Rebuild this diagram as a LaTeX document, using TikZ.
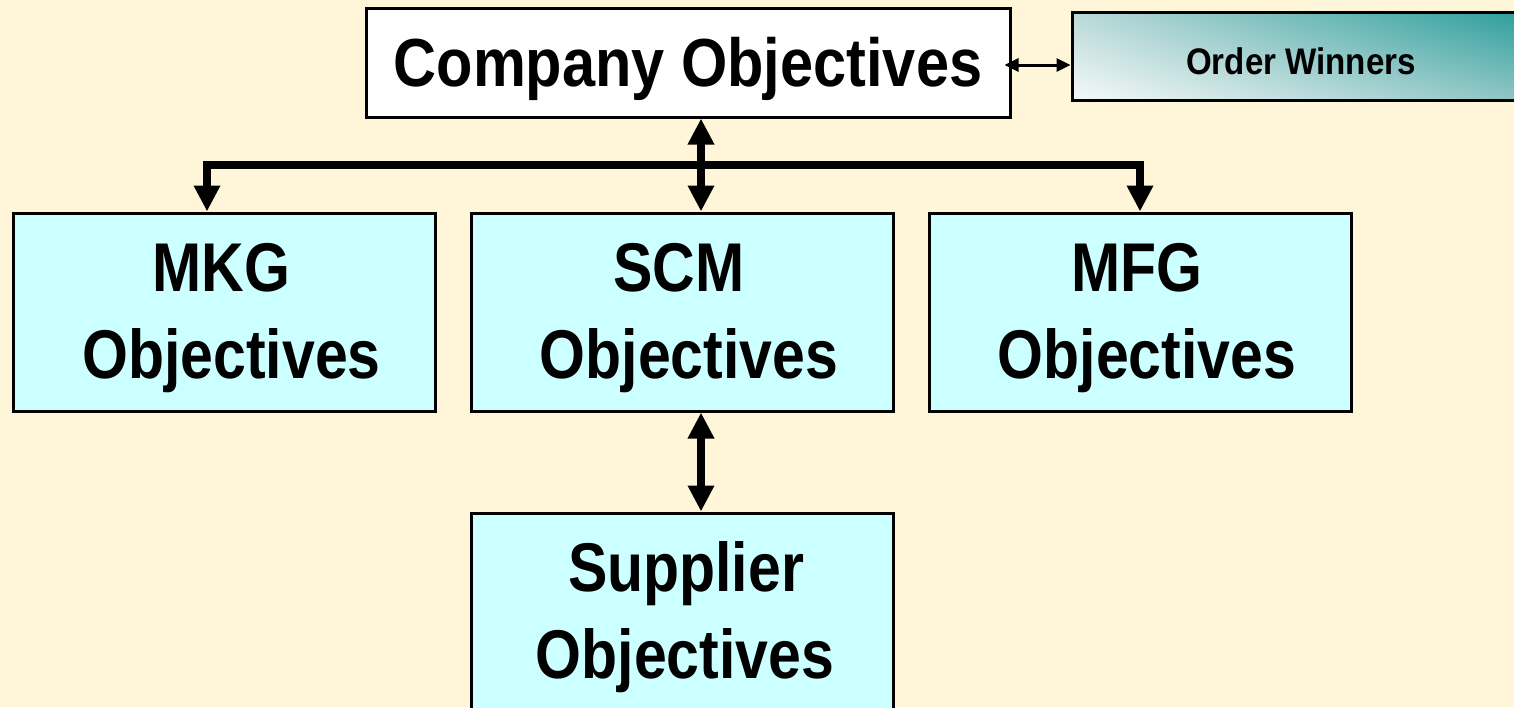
\documentclass[tikz,border=0pt]{standalone}
\usepackage{fontspec}
\setmainfont{Liberation Sans}
\newfontfamily\fco{Liberation Sans}[FakeStretch=0.875]
\newfontfamily\fobj{Liberation Sans}[FakeStretch=0.855]
\newfontfamily\fow{Liberation Sans}[FakeStretch=0.895]
\usetikzlibrary{arrows.meta,calc,shadings}
\definecolor{bg}{RGB}{255,246,217}
\definecolor{cyanbox}{RGB}{204,255,255}
\definecolor{tealA}{RGB}{42,157,154}
\definecolor{tealB}{RGB}{185,217,216}
\definecolor{tealC}{RGB}{246,249,249}
\definecolor{tealD}{RGB}{140,196,195}
\newcommand{\fl}{\rule{0pt}{60pt}}
\tikzset{
  objbox/.style={draw=black, line width=3pt, fill=cyanbox, minimum width=422pt, minimum height=198pt,
    inner sep=0pt, align=center, font=\fobj\bfseries\fontsize{69}{87}\selectfont},
  bigarrow/.style={line width=8pt, line join=miter, {Triangle[width=25pt,length=26pt]}-{Triangle[width=25pt,length=26pt]}},
  thinarrow/.style={line width=3pt, {Triangle[width=13pt,length=14pt]}-{Triangle[width=13pt,length=14pt]}}
}
\begin{document}
\begin{tikzpicture}[x=1pt,y=-1pt]
\useasboundingbox (0,0) rectangle (1514,707);
\clip (0,0) rectangle (1514,707);
\fill[bg] (0,0) rectangle (1514,707);
% Order Winners gradient box
\shade[upper left=tealB, upper right=tealA, lower left=tealC, lower right=tealD] (1072,12) rectangle (1530,100);
\node[draw=black, line width=3pt, minimum width=458pt, minimum height=88pt, inner sep=0pt,
  text height=36pt, text depth=0pt,
  font=\fow\bfseries\fontsize{37}{44}\selectfont] (ow) at (1301,56) {Order Winners};
\node[draw=black, line width=3pt, fill=white, minimum width=644pt, minimum height=109pt, inner sep=0pt,
  text height=47pt, text depth=0pt,
  font=\fco\bfseries\fontsize{68}{82}\selectfont] (co) at (688,62.5) {Company Objectives};
\node[objbox] (mkg) at (224.5,312) {\fl\hspace*{-6pt}MKG\\\hspace*{14pt}Objectives};
\node[objbox] (scm) at (682,312) {\fl\hspace*{-6pt}SCM\\\hspace*{14pt}Objectives};
\node[objbox] (mfg) at (1140,312) {\fl\hspace*{-6pt}MFG\\\hspace*{14pt}Objectives};
\node[objbox] (sup) at (682,612) {\fl\hspace*{8pt}Supplier\\\hspace*{6pt}Objectives};
\coordinate (bl) at (207,165);
\coordinate (br) at (1140,165);
\coordinate (cx) at (701,0);
\draw[bigarrow] (bl |- mkg.north) -- (bl) -- (br) -- (br |- mfg.north);
\draw[bigarrow] (cx |- co.south) -- (cx |- scm.north);
\draw[bigarrow] (cx |- scm.south) -- (cx |- sup.north);
\coordinate (oa) at ($(co.east)+(-7,2.5)$);
\draw[thinarrow] (oa) -- (oa -| ow.west);
\end{tikzpicture}
\end{document}
